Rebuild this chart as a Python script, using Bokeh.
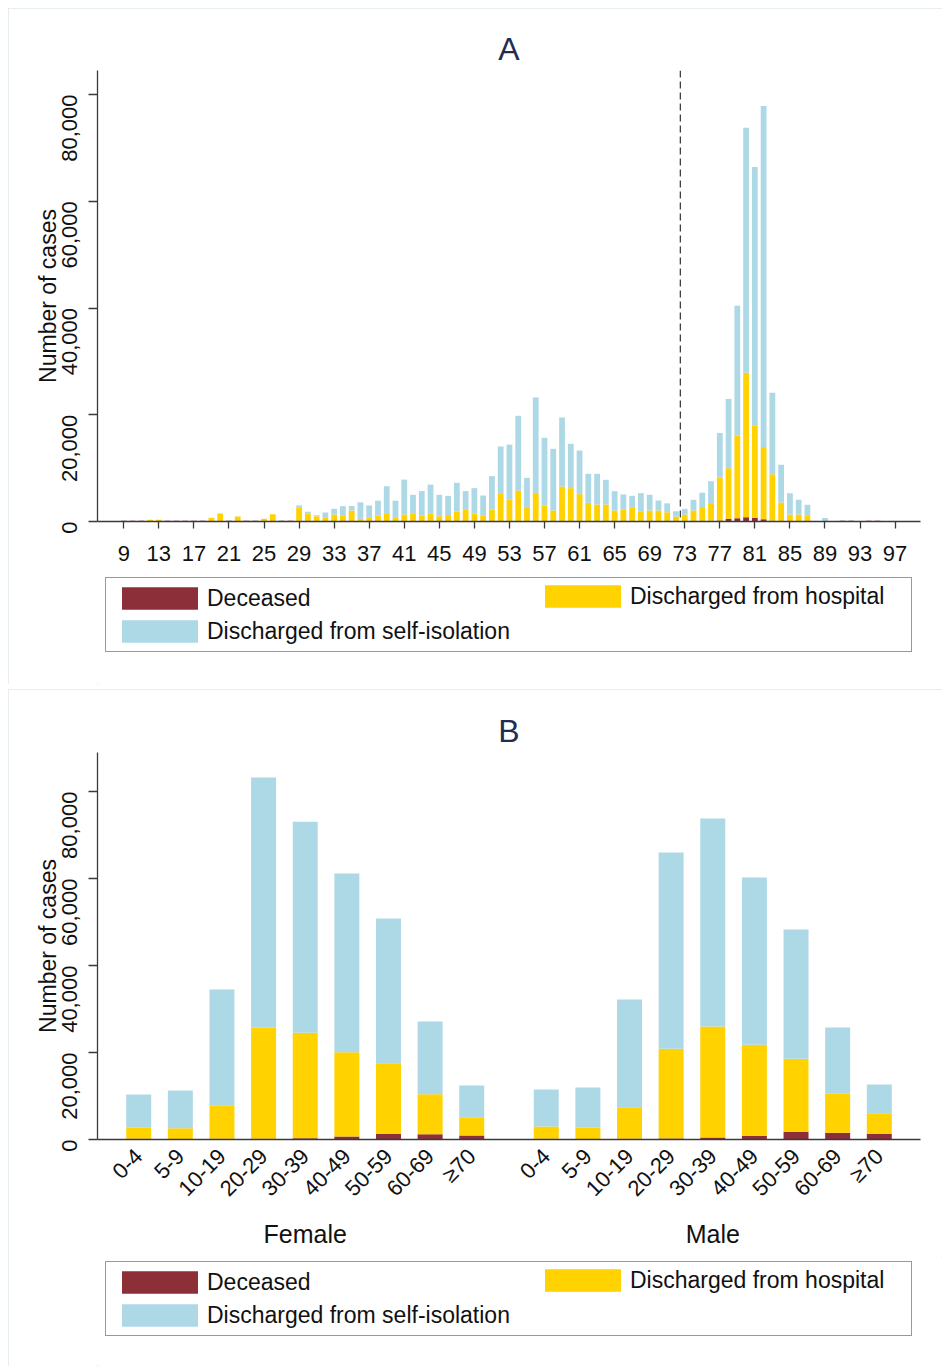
import math
from bokeh.plotting import figure
from bokeh.models import (ColumnDataSource, FactorRange, Range1d, FixedTicker,
                          NumeralTickFormatter, Span, Legend, LegendItem)
from bokeh.layouts import column
from bokeh.embed import file_html
from bokeh.resources import INLINE

# ---------------- Panel A data (by week 9..97) ----------------
weeks = list(range(9, 98))
deceased_a = [150, 150, 150, 100, 100, 150, 150, 150, 150, 150,
              100, 100, 150, 80, 150, 150, 80, 80, 150, 150,
              60, 60, 60, 60, 60, 60, 60, 60, 60, 60,
              60, 60, 60, 60, 60, 60, 60, 60, 60, 60,
              60, 60, 60, 80, 80, 80, 60, 80, 60, 60,
              80, 80, 80, 60, 60, 60, 60, 60, 60, 60,
              60, 60, 60, 60, 60, 80, 100, 150, 200, 500,
              600, 800, 700, 400, 150, 80, 60, 60, 0, 0,
              150, 0, 150, 150, 0, 150, 150, 0, 0]
hospital_a = [0, 0, 0, 250, 250, 0, 0, 0, 0, 0,
              590, 1400, 0, 860, 0, 0, 420, 1290, 0, 0,
              2500, 1370, 940, 750, 1250, 1130, 1990, 440, 740, 1040,
              1340, 740, 1240, 1500, 1040, 1370, 940, 990, 1810, 2240,
              1370, 1040, 2120, 5220, 4040, 5720, 2620, 5290, 2940, 2000,
              6480, 6170, 5040, 3440, 3130, 3130, 2000, 2120, 2500, 1880,
              2000, 2000, 1690, 880, 1250, 2000, 2600, 3330, 8030, 9480,
              15550, 27060, 17310, 13540, 8720, 3470, 1230, 1250, 1190, 0,
              0, 0, 0, 0, 0, 0, 0, 0, 0]
self_a = [0, 0, 0, 0, 0, 0, 0, 0, 0, 0,
          0, 0, 0, 0, 0, 0, 0, 0, 0, 0,
          440, 380, 190, 880, 1060, 1680, 850, 3100, 2200, 2800,
          5200, 3100, 6550, 3440, 4600, 5470, 4000, 3750, 5380, 3400,
          4820, 3770, 6320, 8750, 10280, 14000, 5500, 17870, 12680, 11560,
          12930, 8310, 8180, 5430, 5740, 4620, 3620, 2880, 2250, 3370,
          2940, 1870, 1650, 1000, 1060, 1990, 2690, 4060, 8360, 12980,
          24280, 45900, 48390, 63930, 15230, 7060, 4000, 2750, 1930, 0,
          500, 0, 0, 0, 0, 0, 0, 0, 0]
week_ticks = list(range(9, 98, 4))
cutoff_week = 72.5

# ---------------- Panel B data (by sex and age group) ----------------
sexes = ["Female", "Male"]
age_groups = ["0-4", "5-9", "10-19", "20-29", "30-39", "40-49", "50-59", "60-69", "≥70"]
female_deceased = [150, 100, 150, 200, 300, 690, 1300, 1230, 920]
female_hospital = [2540, 2510, 7740, 25480, 24230, 19380, 16240, 9190, 4210]
female_self = [7660, 8650, 26600, 57550, 48570, 41080, 33270, 16710, 7280]
male_deceased = [150, 100, 150, 250, 460, 840, 1760, 1530, 1300]
male_hospital = [2840, 2590, 7280, 20600, 25520, 20930, 16790, 8970, 4750]
male_self = [8510, 9260, 24760, 45130, 47820, 38460, 29730, 15250, 6590]

y_ticks = [0, 20000, 40000, 60000, 80000]
series_labels = ["Deceased", "Discharged from hospital", "Discharged from self-isolation"]
colors = ["#8C2F39", "#FFD200", "#ADD8E6"]
stackers = ["deceased", "hospital", "self"]

FONT = "Liberation Sans"
AXIS_COLOR = "#3a3a3a"
PANEL_STYLE = {"outline": "1px solid #dfe8ea", "outline-offset": "-1px"}
W = 934


def style_common(p, title):
    p.title.text = title
    p.title.align = "center"
    p.title.text_font = "'Liberation Sans Narrow', 'Liberation Sans'"
    p.title.text_font_size = "32px"
    p.title.text_font_style = "normal"
    p.title.text_color = "#1f2d52"
    p.title.standoff = 8
    p.outline_line_color = None
    p.xgrid.grid_line_color = None
    p.ygrid.grid_line_color = None
    p.background_fill_color = "white"
    p.border_fill_color = "white"
    yax = p.yaxis[0]
    yax.ticker = FixedTicker(ticks=y_ticks)
    yax.formatter = NumeralTickFormatter(format="0,0")
    yax.major_label_orientation = math.pi / 2
    yax.major_label_text_font = FONT
    yax.major_label_text_font_size = "22px"
    yax.major_label_text_color = "#111111"
    yax.major_label_standoff = 19
    yax.axis_label = "Number of cases"
    yax.axis_label_text_font = FONT
    yax.axis_label_text_font_size = "23px"
    yax.axis_label_text_font_style = "normal"
    yax.axis_label_text_color = "#111111"
    yax.axis_label_standoff = -9
    yax.minor_tick_line_color = None
    yax.major_tick_in = 0
    yax.major_tick_out = 9
    yax.axis_line_color = AXIS_COLOR
    yax.major_tick_line_color = AXIS_COLOR
    yax.axis_line_width = 1.3
    yax.major_tick_line_width = 1.3


def legend_figure(height, bottom):
    lf = figure(width=W, height=height, x_range=Range1d(0, W), y_range=Range1d(0, height),
                x_axis_location=None, y_axis_location=None,
                output_backend="svg", toolbar_location=None,
                min_border=0)
    lf.outline_line_color = None
    lf.grid.visible = False
    # placeholder glyphs (outside the visible range) that only serve as legend keys
    rs = [lf.vbar(x=[-1000], top=[1], width=1, fill_color=c, line_color=None) for c in colors]
    common = dict(label_text_font=FONT, label_text_font_size="23px",
                  label_text_color="#111111",
                  glyph_width=95, glyph_height=28, label_standoff=0,
                  label_height=22, spacing=5, padding=6, margin=0)
    # box with first column (Deceased / Discharged from self-isolation)
    leg1 = Legend(items=[LegendItem(label=series_labels[0], renderers=[rs[0]]),
                         LegendItem(label=series_labels[2], renderers=[rs[2]])],
                  orientation="vertical", location=(8, bottom), label_width=698,
                  border_line_color="#333333", border_line_width=1.3,
                  background_fill_color="white", background_fill_alpha=1.0, **common)
    # second column (Discharged from hospital), first row
    leg2 = Legend(items=[LegendItem(label=series_labels[1], renderers=[rs[1]])],
                  orientation="vertical", location=(438, bottom + 42),
                  border_line_color=None, background_fill_alpha=0.0, **common)
    lf.add_layout(leg1, "center")
    lf.add_layout(leg2, "center")
    return lf


# ---------------- Figure A ----------------
srcA = ColumnDataSource(data=dict(week=weeks, deceased=deceased_a,
                                  hospital=hospital_a, self=self_a))
p1 = figure(width=W, height=563, x_range=Range1d(6.0, 99.9), y_range=Range1d(0, 84500),
            output_backend="svg", toolbar_location=None,
            min_border_left=89, min_border_right=22, min_border_top=62, min_border_bottom=50)
p1.vbar_stack(stackers, x="week", width=0.66, fill_color=colors, line_color=None,
              source=srcA)
style_common(p1, "A")
xa = p1.xaxis[0]
xa.ticker = FixedTicker(ticks=week_ticks)
xa.major_label_text_font = FONT
xa.major_label_text_font_size = "22px"
xa.major_label_text_color = "#111111"
xa.major_label_standoff = 17
xa.minor_tick_line_color = None
xa.major_tick_in = 0
xa.major_tick_out = 7
xa.axis_line_color = AXIS_COLOR
xa.major_tick_line_color = AXIS_COLOR
xa.axis_line_width = 1.3
xa.major_tick_line_width = 1.3
p1.add_layout(Span(location=cutoff_week, dimension="height", line_color="#404040",
                   line_dash="7 4", line_width=1.3))
l1 = legend_figure(113, 32)
panelA = column(p1, l1, spacing=0, styles=PANEL_STYLE)

# ---------------- Figure B ----------------
factors = [(s, a) for s in sexes for a in age_groups]
srcB = ColumnDataSource(data=dict(x=factors,
                                  deceased=female_deceased + male_deceased,
                                  hospital=female_hospital + male_hospital,
                                  self=female_self + male_self))
p2 = figure(width=W, height=567,
            x_range=FactorRange(factors=factors, group_padding=0.79, range_padding=0.49,
                                range_padding_units="absolute"),
            y_range=Range1d(0, 89000),
            output_backend="svg", toolbar_location=None,
            min_border_left=89, min_border_right=22, min_border_top=63, min_border_bottom=117)
p2.vbar_stack(stackers, x="x", width=0.6, fill_color=colors, line_color=None,
              source=srcB)
style_common(p2, "B")
xb = p2.xaxis[0]
xb.major_label_orientation = math.pi / 4
xb.major_label_text_font = FONT
xb.major_label_text_font_size = "22px"
xb.major_label_text_color = "#111111"
xb.major_label_standoff = 7
xb.group_text_font = FONT
xb.group_text_font_size = "25px"
xb.group_text_font_style = "normal"
xb.group_text_color = "#111111"
xb.separator_line_color = None
xb.major_tick_line_color = None
xb.minor_tick_line_color = None
xb.axis_line_color = AXIS_COLOR
xb.axis_line_width = 1.3
l2 = legend_figure(110, 30)
panelB = column(p2, l2, spacing=0, styles=PANEL_STYLE)

layout = column(panelA, panelB, spacing=5, margin=(8, 0, 0, 8))
open("out.html", "w").write(file_html(layout, INLINE))
